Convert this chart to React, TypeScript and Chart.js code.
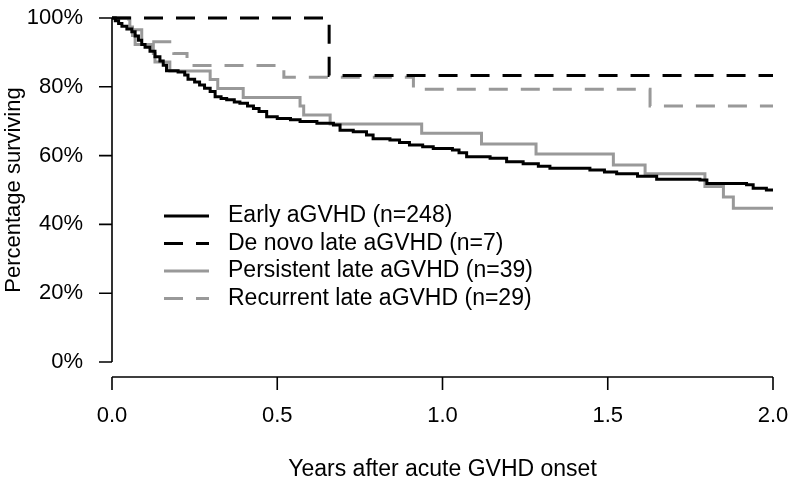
import React, { useEffect, useRef } from "react";
import { Chart, registerables } from "chart.js";

Chart.register(...registerables);

const FONT = "'Liberation Sans', Arial, sans-serif";

const xTicks = [0, 0.5, 1, 1.5, 2];
const yTicks = [0, 20, 40, 60, 80, 100];
const xTitle = "Years after acute GVHD onset";
const yTitle = "Percentage surviving";

const seriesLabels = [
  "Early aGVHD (n=248)",
  "De novo late aGVHD (n=7)",
  "Persistent late aGVHD (n=39)",
  "Recurrent late aGVHD (n=29)",
];
const seriesColors = ["#000000", "#000000", "#999999", "#999999"];
const seriesDashed = [false, true, false, true];

const earlyTimes = [
  0, 0.01, 0.02, 0.03, 0.045, 0.06, 0.07, 0.08, 0.09, 0.1, 0.115, 0.13, 0.145,
  0.155, 0.165, 0.2, 0.22, 0.23, 0.25, 0.265, 0.28, 0.297, 0.312, 0.33, 0.347,
  0.37, 0.387, 0.41, 0.428, 0.445, 0.468, 0.5, 0.54, 0.569, 0.62, 0.67, 0.69,
  0.73, 0.77, 0.79, 0.841, 0.87, 0.9, 0.94, 0.972, 1.03, 1.05, 1.073, 1.144,
  1.194, 1.244, 1.29, 1.325, 1.446, 1.49, 1.527, 1.59, 1.648, 1.779, 1.8, 1.92,
  1.94, 1.98, 2.0,
];
const earlySurv = [
  100, 99.2, 98.4, 97.6, 96.8, 96.0, 94.8, 93.5, 92.3, 91.5, 90.3, 88.7, 87.5,
  86.3, 84.7, 84.3, 83.4, 82.2, 81.4, 80.5, 79.6, 78.6, 77.1, 76.6, 76.2, 75.6,
  75.2, 74.4, 73.7, 72.8, 71.3, 70.8, 70.4, 69.9, 69.4, 68.9, 67.4, 66.9, 66.0,
  64.9, 64.5, 63.8, 63.1, 62.6, 62.1, 61.6, 60.8, 59.7, 59.2, 58.2, 57.6, 56.9,
  56.3, 55.8, 55.2, 54.7, 54.0, 53.1, 52.9, 51.9, 51.5, 50.5, 50.0, 50.0,
];

const deNovoTimes = [0, 0.657, 2.0];
const deNovoSurv = [100, 83.3, 83.3];

const persistentTimes = [
  0, 0.054, 0.062, 0.07, 0.125, 0.13, 0.175, 0.297, 0.32, 0.397, 0.569, 0.58,
  0.66, 0.937, 1.118, 1.283, 1.517, 1.613, 1.794, 1.85, 1.88, 2.0,
];
const persistentSurv = [
  100, 97.4, 94.9, 92.3, 89.7, 87.2, 84.6, 82.1, 79.5, 76.9, 74.4, 71.8, 69.2,
  66.5, 63.4, 60.5, 57.3, 54.7, 51.0, 48.0, 44.7, 44.7,
];

const recurrentTimes = [0, 0.05, 0.09, 0.187, 0.227, 0.52, 0.912, 1.628, 2.0];
const recurrentSurv = [100, 96.6, 93.1, 89.7, 86.2, 82.8, 79.3, 74.4, 74.4];

const seriesTimes = [earlyTimes, deNovoTimes, persistentTimes, recurrentTimes];
const seriesSurv = [earlySurv, deNovoSurv, persistentSurv, recurrentSurv];

const DASH = [19, 13];

const rAxesPlugin = {
  id: "rAxes",
  afterDraw(chart: any) {
    const { ctx, scales } = chart;
    const x = scales.x;
    const y = scales.y;
    ctx.save();
    ctx.strokeStyle = "#000";
    ctx.lineWidth = 1.6;
    ctx.lineCap = "butt";
    ctx.beginPath();
    const yAxisX = x.getPixelForValue(xTicks[0]);
    ctx.moveTo(yAxisX, y.getPixelForValue(yTicks[0]));
    ctx.lineTo(yAxisX, y.getPixelForValue(yTicks[yTicks.length - 1]));
    yTicks.forEach((v) => {
      const py = y.getPixelForValue(v);
      ctx.moveTo(yAxisX, py);
      ctx.lineTo(yAxisX - 13, py);
    });
    const axY = y.getPixelForValue(yTicks[0]) + 15;
    ctx.moveTo(x.getPixelForValue(xTicks[0]), axY);
    ctx.lineTo(x.getPixelForValue(xTicks[xTicks.length - 1]), axY);
    xTicks.forEach((v) => {
      const px = x.getPixelForValue(v);
      ctx.moveTo(px, axY);
      ctx.lineTo(px, axY + 13);
    });
    ctx.stroke();

    // legend
    const lx0 = 164;
    const lx1 = 209;
    const tx = 228;
    const rowY0 = 216;
    const rowStep = 27.5;
    ctx.font = `23px ${FONT}`;
    ctx.textBaseline = "middle";
    ctx.textAlign = "left";
    seriesLabels.forEach((label, i) => {
      const ry = rowY0 + i * rowStep;
      ctx.beginPath();
      ctx.strokeStyle = seriesColors[i];
      ctx.lineWidth = 3;
      ctx.setLineDash(seriesDashed[i] ? DASH : []);
      ctx.moveTo(lx0, ry);
      ctx.lineTo(lx1, ry);
      ctx.stroke();
      ctx.setLineDash([]);
      ctx.fillStyle = "#000";
      ctx.fillText(label, tx, ry);
    });
    ctx.restore();
  },
};

export default function App() {
  const ref = useRef<HTMLCanvasElement | null>(null);

  useEffect(() => {
    if (!ref.current) return;
    const datasets = seriesLabels.map((label, i) => ({
      label,
      data: seriesTimes[i].map((t, j) => ({ x: t, y: seriesSurv[i][j] })),
      borderColor: seriesColors[i],
      backgroundColor: seriesColors[i],
      borderWidth: 3,
      borderDash: seriesDashed[i] ? DASH : [],
      borderCapStyle: "butt",
      borderJoinStyle: "miter",
      stepped: "before",
      pointRadius: 0,
      fill: false,
      tension: 0,
      clip: false,
    }));

    const chart = new Chart(ref.current, {
      type: "line",
      data: { datasets } as any,
      options: {
        responsive: false,
        animation: false,
        events: [],
        layout: { padding: { top: 18, right: 27, left: 0, bottom: 0 } },
        plugins: {
          legend: { display: false },
          tooltip: { enabled: false },
        },
        scales: {
          x: {
            type: "linear",
            min: 0,
            max: 2,
            afterBuildTicks: (scale: any) => {
              scale.ticks = xTicks.map((v) => ({ value: v }));
            },
            afterFit: (scale: any) => {
              scale.height = 128;
            },
            grid: { display: false, drawTicks: true, tickLength: 41 },
            border: { display: false },
            ticks: {
              padding: 0,
              color: "#000",
              font: { family: FONT, size: 22 },
              maxRotation: 0,
              callback: (v: any) => Number(v).toFixed(1),
            },
            title: {
              display: true,
              text: xTitle,
              color: "#000",
              font: { family: FONT, size: 23 },
              padding: { top: 0, bottom: 7 },
            },
          },
          y: {
            type: "linear",
            min: 0,
            max: 100,
            afterBuildTicks: (scale: any) => {
              scale.ticks = yTicks.map((v) => ({ value: v }));
            },
            afterFit: (scale: any) => {
              scale.width = 112;
            },
            grid: { display: false, drawTicks: true, tickLength: 29 },
            border: { display: false },
            ticks: {
              padding: 0,
              color: "#000",
              font: { family: FONT, size: 22 },
              callback: (v: any) => `${v}%`,
            },
            title: {
              display: true,
              text: yTitle,
              color: "#000",
              font: { family: FONT, size: 22 },
              padding: { top: 1, bottom: 0 },
            },
          },
        },
      } as any,
      plugins: [rAxesPlugin],
    });
    return () => chart.destroy();
  }, []);

  return (
    <div style={{ position: "absolute", left: 0, top: 0, width: 800, height: 490, background: "#fff" }}>
      <canvas ref={ref} width={800} height={490} style={{ width: 800, height: 490, display: "block" }} />
    </div>
  );
}
